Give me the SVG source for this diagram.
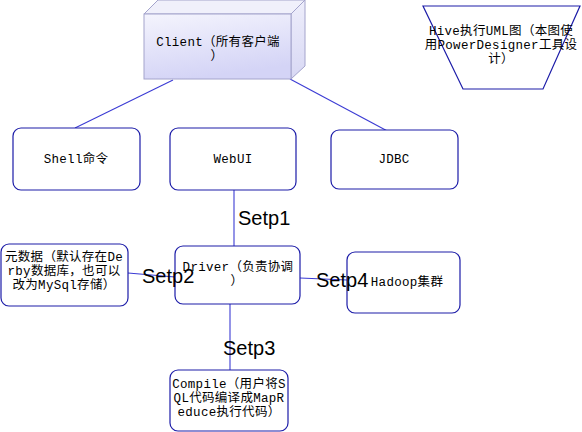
<svg xmlns="http://www.w3.org/2000/svg" width="582" height="432" viewBox="0 0 582 432">
<defs>
<linearGradient id="front" x1="0" y1="0" x2="0.3" y2="1">
<stop offset="0" stop-color="#f4f4fd"/>
<stop offset="1" stop-color="#d4d4f6"/>
</linearGradient>
<linearGradient id="side" x1="0" y1="0" x2="0" y2="1">
<stop offset="0" stop-color="#eeeefb"/>
<stop offset="1" stop-color="#d8d8f4"/>
</linearGradient>
</defs>
<style>
.box{fill:#ffffff;stroke:#1c1ca8;stroke-width:1.2}
.con{stroke:#3b3bd4;stroke-width:1.1;fill:none}
.t{font-family:"Liberation Mono","Noto Sans CJK SC",monospace;font-size:12.5px;letter-spacing:0.3px;fill:#000;text-anchor:middle}
.lbl{font-family:"Liberation Sans","Noto Sans",sans-serif;font-size:20px;fill:#000}
</style>
<rect width="582" height="432" fill="#ffffff"/>
<g id="connectors">
<line class="con" x1="173" y1="80" x2="75" y2="128"/>
<line class="con" x1="290" y1="79" x2="393" y2="134"/>
<line class="con" x1="234" y1="190" x2="234" y2="246"/>
<line class="con" x1="128" y1="273" x2="175" y2="277"/>
<line class="con" x1="230" y1="304" x2="230" y2="370"/>
<line class="con" x1="300" y1="278" x2="347" y2="280"/>
</g>
<g id="client">
<polygon points="144,14 158,0 305,0 291,14" fill="#f0f0fb" stroke="#a4a4cc" stroke-width="1"/>
<polygon points="291,14 305,0 305,66 291,79" fill="url(#side)" stroke="#a4a4cc" stroke-width="1"/>
<rect x="144" y="14" width="147" height="65" fill="url(#front)" stroke="#a4a4cc" stroke-width="1"/>
<text class="t" x="218" y="46">Client（所有客户端</text>
<text class="t" x="217" y="60">）</text>
</g>
<g id="hive-note">
<polygon points="423,6 580,6 543,89 463,89" fill="#ffffff" stroke="#1c1ca8" stroke-width="1.2"/>
<text class="t" x="501" y="35">Hive执行UML图（本图使</text>
<text class="t" x="501" y="49">用PowerDesigner工具设</text>
<text class="t" x="501" y="63">计）</text>
</g>
<g id="shell">
<rect class="box" x="13" y="128" width="127" height="62" rx="8"/>
<text class="t" x="76" y="163">Shell命令</text>
</g>
<g id="webui">
<rect class="box" x="170" y="128" width="126" height="62" rx="8"/>
<text class="t" x="233" y="163">WebUI</text>
</g>
<g id="jdbc">
<rect class="box" x="331" y="130" width="127" height="59" rx="8"/>
<text class="t" x="394" y="163">JDBC</text>
</g>
<g id="metadata">
<rect class="box" x="1" y="244" width="127" height="62" rx="8"/>
<text class="t" x="64" y="261">元数据（默认存在De</text>
<text class="t" x="64" y="275">rby数据库，也可以</text>
<text class="t" x="64" y="289">改为MySql存储）</text>
</g>
<g id="driver">
<rect class="box" x="175" y="246" width="125" height="58" rx="8"/>
<text class="t" x="238" y="271">Driver（负责协调</text>
<text class="t" x="237" y="285">）</text>
</g>
<g id="hadoop">
<rect class="box" x="347" y="252" width="113" height="61" rx="8"/>
<text class="t" x="407" y="286">Hadoop集群</text>
</g>
<g id="compile">
<rect class="box" x="170" y="370" width="118" height="61" rx="8"/>
<text class="t" x="229" y="388">Compile（用户将S</text>
<text class="t" x="229" y="402">QL代码编译成MapR</text>
<text class="t" x="229" y="416">educe执行代码）</text>
</g>
<g id="labels">
<text class="lbl" x="238" y="225">Setp1</text>
<text class="lbl" x="142" y="283">Setp2</text>
<text class="lbl" x="223" y="355">Setp3</text>
<text class="lbl" x="316" y="287">Setp4</text>
</g>
</svg>
